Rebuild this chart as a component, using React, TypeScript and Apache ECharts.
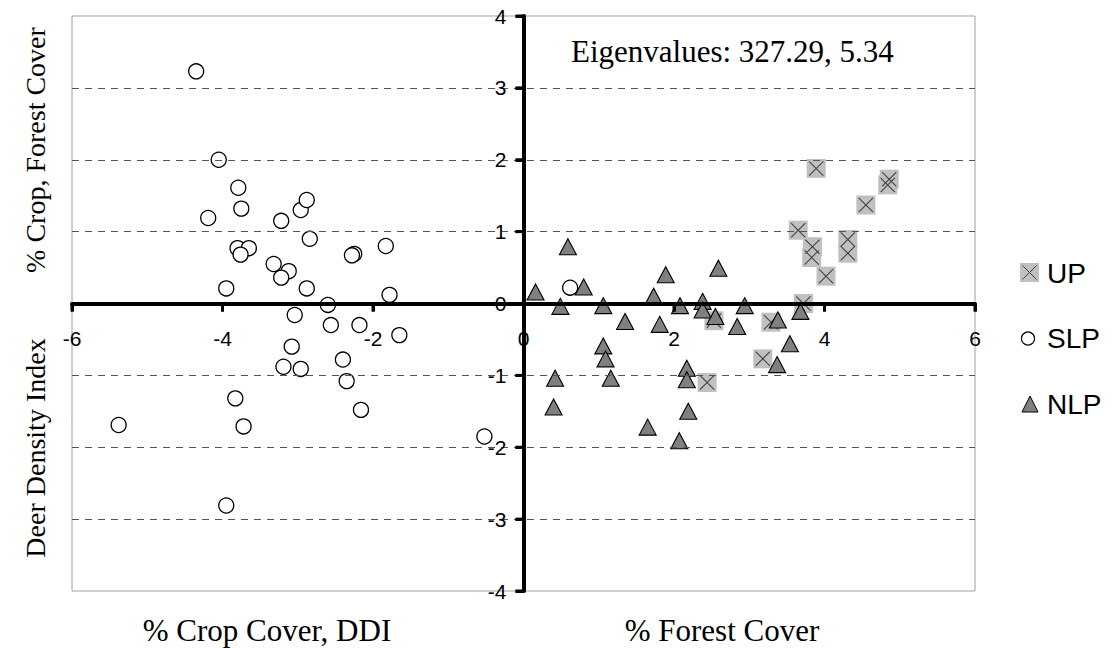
import React, { useEffect, useRef } from "react";
import * as echarts from "echarts";

// ---- data ----
const xTicksMin = -6;
const xTicksMax = 6;
const yTicksMin = -4;
const yTicksMax = 4;
const xTickValues = [-6, -4, -2, 0, 2, 4, 6];
const yTickValues = [-4, -3, -2, -1, 0, 1, 2, 3, 4];

const upPoints: [number, number][] = [
  [3.89, 1.88], [4.86, 1.73], [4.84, 1.65], [4.55, 1.37], [3.65, 1.02],
  [4.31, 0.89], [4.31, 0.70], [3.84, 0.79], [3.83, 0.64], [4.02, 0.38],
  [3.72, 0.0], [2.53, -0.24], [3.29, -0.26], [3.18, -0.77], [2.44, -1.10],
];

const slpPoints: [number, number][] = [
  [-4.35, 3.23], [-4.05, 2.0], [-3.79, 1.61], [-3.75, 1.32], [-4.19, 1.19],
  [-3.22, 1.15], [-2.96, 1.30], [-2.88, 1.44], [-2.84, 0.90], [-3.80, 0.77],
  [-3.65, 0.77], [-3.76, 0.68], [-3.32, 0.55], [-3.12, 0.45], [-3.22, 0.36],
  [-3.95, 0.21], [-2.88, 0.21], [-2.25, 0.69], [-2.28, 0.67], [-1.83, 0.80],
  [-1.78, 0.12], [-2.60, -0.02], [-3.04, -0.16], [-2.56, -0.30], [-2.18, -0.30],
  [-1.65, -0.44], [-3.08, -0.60], [-2.40, -0.78], [-3.19, -0.88], [-2.96, -0.91],
  [-2.35, -1.08], [-2.16, -1.48], [-3.83, -1.32], [-3.72, -1.71], [-5.38, -1.69],
  [-0.52, -1.85], [-3.95, -2.81], [0.62, 0.22],
];

const nlpPoints: [number, number][] = [
  [0.16, 0.16], [0.80, 0.23], [0.59, 0.79], [1.89, 0.40], [2.59, 0.49],
  [0.49, -0.04], [1.06, -0.03], [1.35, -0.25], [1.73, 0.10], [1.81, -0.29],
  [2.08, -0.03], [2.38, 0.03], [2.38, -0.09], [2.55, -0.18], [2.94, -0.03],
  [2.84, -0.32], [3.38, -0.23], [3.54, -0.56], [3.37, -0.85], [3.68, -0.11],
  [1.06, -0.59], [1.09, -0.77], [1.16, -1.04], [0.42, -1.04], [0.40, -1.44],
  [2.17, -0.90], [2.17, -1.06], [2.19, -1.50], [1.65, -1.72], [2.07, -1.91],
];

const seriesNames = ["UP", "SLP", "NLP"];
const eigenText = "Eigenvalues: 327.29, 5.34";
const xTitleLeft = "% Crop Cover, DDI";
const xTitleRight = "% Forest Cover";
const yTitleUpper = "% Crop, Forest Cover";
const yTitleLower = "Deer Density Index";

const SERIF = "'Liberation Serif', 'Times New Roman', serif";
const SANS = "'Liberation Sans', Arial, sans-serif";

const X_PATH =
  "path://M1,0 L10,9 L19,0 L20,1 L11,10 L20,19 L19,20 L10,11 L1,20 L0,19 L9,10 L0,1 Z";

const GRID_LEFT = 72;
const GRID_TOP = 16;
const GRID_W = 903;
const GRID_H = 575;
const TICK_LEN = 8;

export default function App() {
  const ref = useRef<HTMLDivElement>(null);

  useEffect(() => {
    if (!ref.current) return;
    const chart = echarts.init(ref.current, undefined, { renderer: "svg" });

    const titleStyle = { fill: "#000", font: `31px ${SERIF}` };
    const legendFont = `28px ${SANS}`;

    const baseGraphic: any[] = [
      { type: "text", left: 571, top: 36, style: { ...titleStyle, text: eigenText } },
      {
        type: "text", x: 267, y: 630,
        style: { ...titleStyle, text: xTitleLeft, textAlign: "center", textVerticalAlign: "middle" },
      },
      {
        type: "text", x: 722, y: 630,
        style: { ...titleStyle, text: xTitleRight, textAlign: "center", textVerticalAlign: "middle" },
      },
      {
        type: "text", x: 35, y: 150, rotation: Math.PI / 2,
        style: { fill: "#000", font: `28px ${SERIF}`, text: yTitleUpper, textAlign: "center", textVerticalAlign: "middle" },
      },
      {
        type: "text", x: 35, y: 448, rotation: Math.PI / 2,
        style: { fill: "#000", font: `28px ${SERIF}`, text: yTitleLower, textAlign: "center", textVerticalAlign: "middle" },
      },
      // legend
      { type: "rect", shape: { x: 1020, y: 263, width: 19, height: 19 }, style: { fill: "#c0c0c0" } },
      { type: "line", shape: { x1: 1022.5, y1: 265.5, x2: 1036.5, y2: 279.5 }, style: { stroke: "#404040", lineWidth: 1 } },
      { type: "line", shape: { x1: 1036.5, y1: 265.5, x2: 1022.5, y2: 279.5 }, style: { stroke: "#404040", lineWidth: 1 } },
      { type: "text", x: 1047, y: 273, style: { fill: "#000", font: legendFont, text: seriesNames[0], textVerticalAlign: "middle" } },
      { type: "circle", shape: { cx: 1028, cy: 338.5, r: 6.5 }, style: { fill: "#fff", stroke: "#000", lineWidth: 1.2 } },
      { type: "text", x: 1047, y: 338, style: { fill: "#000", font: legendFont, text: seriesNames[1], textVerticalAlign: "middle" } },
      { type: "polygon", shape: { points: [[1030, 396], [1038, 412], [1022, 412]] }, style: { fill: "#808080", stroke: "#000", lineWidth: 1 } },
      { type: "text", x: 1047, y: 404, style: { fill: "#000", font: legendFont, text: seriesNames[2], textVerticalAlign: "middle" } },
    ];

    chart.setOption({
      animation: false,
      backgroundColor: "#fff",
      grid: {
        left: GRID_LEFT,
        top: GRID_TOP,
        width: GRID_W,
        height: GRID_H,
        show: true,
        borderColor: "#a0a0a0",
        borderWidth: 1,
        backgroundColor: "transparent",
      },
      xAxis: {
        type: "value",
        position: "bottom",
        offset: -GRID_H / 2,
        min: xTicksMin,
        max: xTicksMax,
        interval: 2,
        axisLine: { onZero: false, lineStyle: { color: "#000", width: 4 } },
        axisTick: { show: true, inside: false, length: TICK_LEN, lineStyle: { color: "#000", width: 3 } },
        axisLabel: { color: "#000", fontSize: 21, fontFamily: SANS, margin: 24 },
        splitLine: { show: false },
        z: 10,
      },
      yAxis: {
        type: "value",
        position: "left",
        offset: -GRID_W / 2,
        min: yTicksMin,
        max: yTicksMax,
        interval: 1,
        axisLine: { onZero: false, lineStyle: { color: "#000", width: 4 } },
        axisTick: { show: true, inside: false, length: TICK_LEN, lineStyle: { color: "#000", width: 3 } },
        axisLabel: { color: "#000", fontSize: 21, fontFamily: SANS, margin: 17 },
        splitLine: {
          show: true,
          showMinLine: false,
          showMaxLine: false,
          lineStyle: { color: "#555", width: 1, type: [7, 6] },
        },
        z: 10,
      },
      series: [
        {
          name: seriesNames[0], type: "scatter", data: upPoints, symbol: "rect", symbolSize: 19,
          itemStyle: { color: "#c0c0c0", borderWidth: 0, opacity: 1 }, z: 2,
        },
        {
          name: seriesNames[0], type: "scatter", data: upPoints, symbol: X_PATH, symbolSize: 15,
          itemStyle: { color: "#404040", borderWidth: 0, opacity: 1 }, z: 3,
        },
        {
          name: seriesNames[1], type: "scatter", data: slpPoints, symbol: "circle", symbolSize: 15,
          itemStyle: { color: "#fff", borderColor: "#000", borderWidth: 1.3, opacity: 1 }, z: 4,
        },
        {
          name: seriesNames[2], type: "scatter", data: nlpPoints, symbol: "triangle", symbolSize: [17, 16],
          itemStyle: { color: "#808080", borderColor: "#000", borderWidth: 1.1, opacity: 1 }, z: 5,
        },
      ],
      graphic: baseGraphic,
    });

    // tick marks on the zero-crossing axes, positioned through the axes' own scales
    const toPx = (pt: number[]) =>
      chart.convertToPixel({ xAxisIndex: 0, yAxisIndex: 0 } as any, pt) as unknown as number[];
    const origin = toPx([0, 0]);
    const tickGraphic: any[] = [];
    if (origin && isFinite(origin[0]) && isFinite(origin[1])) {
      xTickValues.forEach((v) => {
        const px = chart.convertToPixel({ xAxisIndex: 0 } as any, v) as unknown as number;
        tickGraphic.push({
          type: "rect", z: 100, zlevel: 0,
          shape: { x: px - 1.5, y: origin[1], width: 3, height: TICK_LEN },
          style: { fill: "#000" },
        });
      });
      yTickValues.forEach((v) => {
        const py = chart.convertToPixel({ yAxisIndex: 0 } as any, v) as unknown as number;
        tickGraphic.push({
          type: "rect", z: 100, zlevel: 0,
          shape: { x: origin[0] - TICK_LEN, y: py - 1.5, width: TICK_LEN, height: 3 },
          style: { fill: "#000" },
        });
      });
    }
    chart.setOption({ graphic: [...baseGraphic, ...tickGraphic] });

    return () => chart.dispose();
  }, []);

  return (
    <div
      ref={ref}
      style={{ position: "fixed", left: 0, top: 0, width: 1117, height: 648, background: "#fff" }}
    />
  );
}
